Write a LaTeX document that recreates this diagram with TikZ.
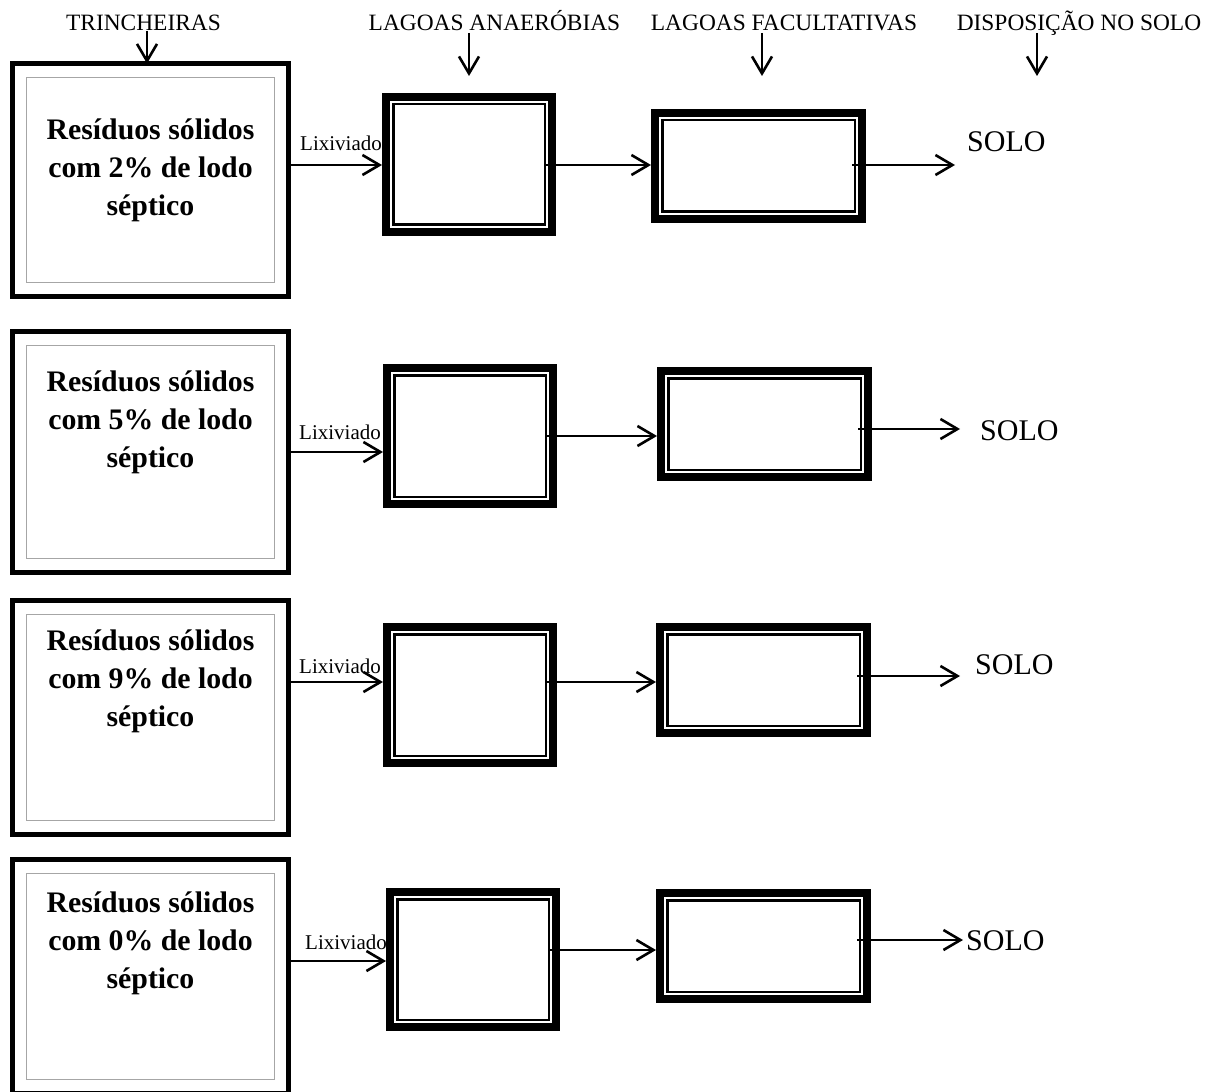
\documentclass[tikz,border=0pt]{standalone}
\usepackage{fontspec}
\setmainfont{Liberation Serif}
\usetikzlibrary{arrows.meta,calc}
\begin{document}
\begin{tikzpicture}[x=1pt,y=-1pt,
  arr/.style={line width=2.6pt,-{Straight Barb[length=17pt,width=20pt]}},
  trench/.style={draw, line width=5pt, inner sep=0pt, outer sep=0pt, minimum width=276pt, minimum height=234pt,
    path picture={\draw[black!35, line width=1.2pt] ([shift={(14pt,-14pt)}]path picture bounding box.north west) rectangle ([shift={(-14pt,14pt)}]path picture bounding box.south east);}},
  lagoon/.style={draw, line width=8pt, inner sep=0pt, outer sep=0pt,
    path picture={\draw[line width=2.2pt] ([shift={(7.4pt,-7.4pt)}]path picture bounding box.north west) rectangle ([shift={(-7.4pt,7.4pt)}]path picture bounding box.south east);}},
  anaer/.style={lagoon, minimum width=166pt, minimum height=135pt},
  facul/.style={lagoon, minimum width=207pt, minimum height=106pt},
  head/.style={font=\fontsize{23.4}{28}\selectfont, inner sep=0pt, anchor=base},
  trtext/.style={font=\bfseries\fontsize{29.8}{38}\selectfont, align=center, inner sep=0pt, anchor=base},
  lix/.style={font=\fontsize{21}{25}\selectfont, inner sep=0pt, anchor=base west},
  solo/.style={font=\fontsize{30}{36}\selectfont, inner sep=0pt, anchor=base west}]
\useasboundingbox (0,0) rectangle (1214,1091);
\clip (0,0) rectangle (1214,1091);

% headings
\node[head] (h1) at (143.5,31) {TRINCHEIRAS};
\node[head] (h2) at (494.5,31) {LAGOAS ANAERÓBIAS};
\node[head] (h3) at (784,31) {LAGOAS FACULTATIVAS};
\node[head] (h4) at (1079,31) {DISPOSIÇÃO NO SOLO};

% trenches
\node[trench, minimum height=233pt] (t1) at (150.5,180) {};
\node[trench, minimum height=241pt] (t2) at (150.5,452) {};
\node[trench] (t3) at (150.5,717.5) {};
\node[trench] (t4) at (150.5,976.5) {};

% text blocks (anchor base = baseline of last line)
\node[trtext] (x1) at (150.5,216) {Resíduos sólidos\\com 2\% de lodo\\séptico};
\node[trtext] (x2) at (150.5,467) {Resíduos sólidos\\com 5\% de lodo\\séptico};
\node[trtext] (x3) at (150.5,726) {Resíduos sólidos\\com 9\% de lodo\\séptico};
\node[trtext] (x4) at (150.5,988) {Resíduos sólidos\\com 0\% de lodo\\séptico};

% lagoons
\node[anaer] (a1) at (469,164.5) {};
\node[facul] (f1) at (758.5,166) {};
\node[anaer, minimum height=136pt] (a2) at (470,436) {};
\node[facul] (f2) at (764.5,424) {};
\node[anaer, minimum height=136pt] (a3) at (470,695) {};
\node[facul] (f3) at (763.5,680) {};
\node[anaer] (a4) at (473,959.5) {};
\node[facul] (f4) at (763.5,946) {};

% labels
\node[lix] (l1) at (300,151) {Lixiviado};
\node[lix] (l2) at (299,439) {Lixiviado};
\node[lix] (l3) at (299,673) {Lixiviado};
\node[lix] (l4) at (305,949) {Lixiviado};

\node[solo] (s1) at (967,152) {SOLO};
\node[solo] (s2) at (980,440) {SOLO};
\node[solo] (s3) at (975,674) {SOLO};
\node[solo] (s4) at (966,950) {SOLO};

% heading arrows
\coordinate (c1) at (147,0);
\coordinate (c2) at (469,76);
\coordinate (c3) at (762,76);
\coordinate (c4) at (1037,76);
\draw[arr] (h1.base -| c1) -- (t1.north -| c1);
\draw[arr] ($(h2.base -| c2)+(0,2)$) -- (c2);
\draw[arr] ($(h3.base -| c3)+(0,2)$) -- (c3);
\draw[arr] ($(h4.base -| c4)+(0,2)$) -- (c4);

% row levels
\coordinate (L1) at (0,165); \coordinate (M1) at (0,165); \coordinate (E1) at (0,165);
\coordinate (L2) at (0,452); \coordinate (M2) at (0,436); \coordinate (E2) at (0,429);
\coordinate (L3) at (0,682); \coordinate (M3) at (0,682); \coordinate (E3) at (0,676);
\coordinate (L4) at (0,961); \coordinate (M4) at (0,950); \coordinate (E4) at (0,940);

% row connectors
\draw[arr, shorten >=4pt] (t1.east |- L1) -- (a1.west |- L1);
\draw[arr, shorten >=4pt] ($(a1.east |- M1)+(-8,0)$) -- (f1.west |- M1);
\draw[arr, shorten >=12pt] ($(f1.east |- E1)+(-10,0)$) -- (s1.west |- E1);

\draw[arr, shorten >=4pt] (t2.east |- L2) -- (a2.west |- L2);
\draw[arr, shorten >=4pt] ($(a2.east |- M2)+(-8,0)$) -- (f2.west |- M2);
\draw[arr, shorten >=20pt] ($(f2.east |- E2)+(-10,0)$) -- (s2.west |- E2);

\draw[arr, shorten >=4pt] (t3.east |- L3) -- (a3.west |- L3);
\draw[arr, shorten >=4pt] ($(a3.east |- M3)+(-8,0)$) -- (f3.west |- M3);
\draw[arr, shorten >=15pt] ($(f3.east |- E3)+(-10,0)$) -- (s3.west |- E3);

\draw[arr, shorten >=4pt] (t4.east |- L4) -- (a4.west |- L4);
\draw[arr, shorten >=4pt] ($(a4.east |- M4)+(-8,0)$) -- (f4.west |- M4);
\draw[arr, shorten >=3pt] ($(f4.east |- E4)+(-10,0)$) -- (s4.west |- E4);
\end{tikzpicture}
\end{document}
